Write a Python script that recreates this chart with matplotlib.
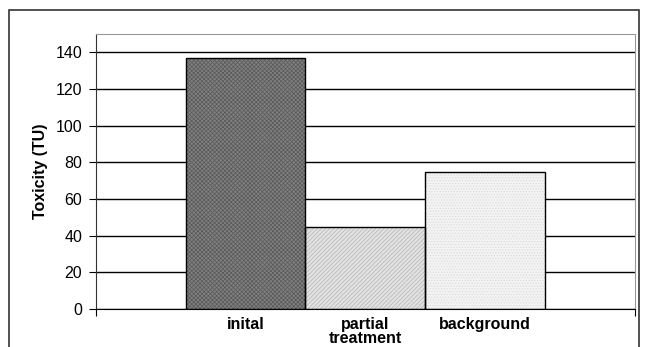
import matplotlib.pyplot as plt
from matplotlib.patches import Rectangle

categories = ['inital', 'partial\ntreatment', 'background']
toxicity = [137, 44.5, 74.5]
face_colors = ['#808080', '#e2e2e2', '#f3f3f3']
hatch_colors = ['#585858', '#b4b4b4', '#dadada']
hatches = ['xxxxxxxx', '////////', '......']

plt.rcParams['font.family'] = ['Liberation Sans', 'DejaVu Sans']
plt.rcParams['hatch.linewidth'] = 0.5

fig = plt.figure(figsize=(6.46, 3.47), dpi=100)
# outer chart frame
fig.patches.append(Rectangle((9 / 646, -0.1), 630 / 646, 1.1 - 10 / 347,
                             transform=fig.transFigure, fill=False,
                             edgecolor='#333333', linewidth=1.2))

ax = fig.add_axes([96 / 646, 1 - 309 / 347, (634.5 - 96) / 646, (309 - 34) / 347])

x = list(range(len(categories)))
# hatched fill, then the black outline
ax.bar(x, toxicity, width=1.0, color=face_colors, edgecolor=hatch_colors,
       hatch=hatches, linewidth=0, zorder=2)
ax.bar(x, toxicity, width=1.0, fill=False, edgecolor='black', linewidth=1.0, zorder=3)

ax.set_xlim(-1.25, 3.25)
ax.set_ylim(0, 150)
ax.set_yticks(range(0, 141, 20))
ax.yaxis.grid(True, color='black', linewidth=1.0)
ax.set_axisbelow(True)

ax.set_xticks([-1.25, 3.25])
ax.set_xticklabels([])
ax.set_xticks(x, minor=True)
ax.set_xticklabels(categories, minor=True, fontsize=11.5, fontweight='bold',
                   linespacing=0.88)
ax.tick_params(axis='x', which='minor', length=0, pad=6)
ax.tick_params(axis='x', which='major', direction='out', length=5, color='black')
ax.tick_params(axis='y', direction='out', length=5, labelsize=11.5, pad=5, color='black')

ax.set_ylabel('Toxicity (TU)', fontsize=11.5, fontweight='bold', labelpad=5)

ax.spines['top'].set_color('#999999')
ax.spines['right'].set_color('#999999')
ax.spines['left'].set_color('#333333')
ax.spines['bottom'].set_color('black')
ax.spines['bottom'].set_zorder(4)

fig.savefig('out.png', dpi=100)
